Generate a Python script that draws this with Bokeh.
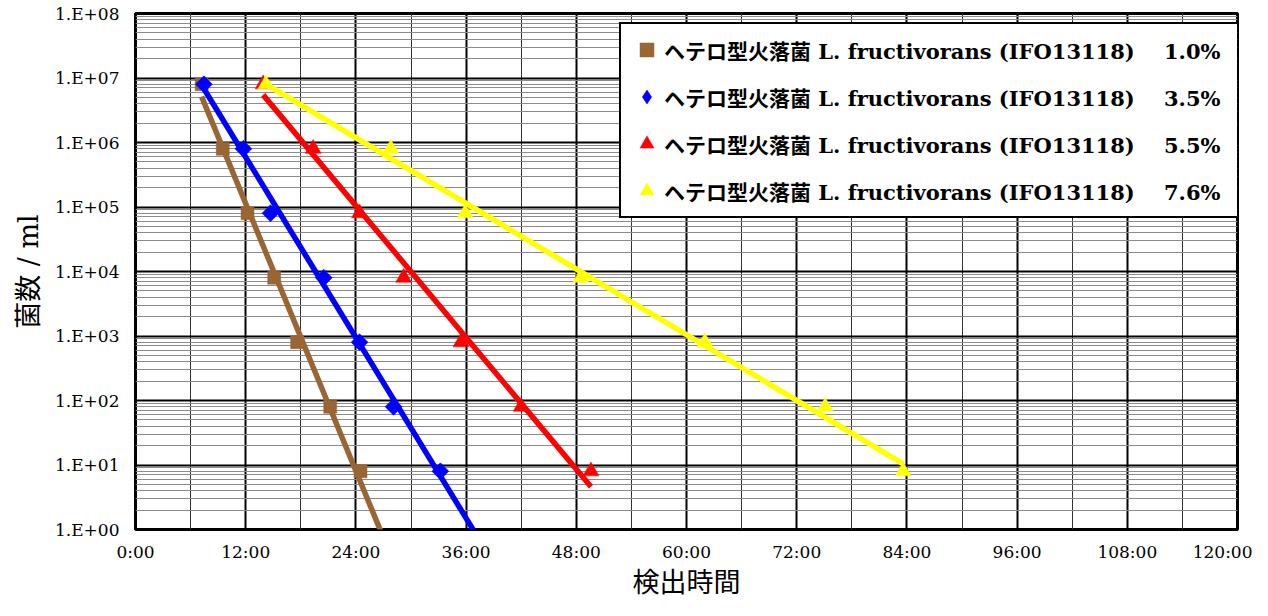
import numpy as np
from bokeh.plotting import figure
from bokeh.models import Range1d, FixedTicker, Legend, LegendItem
from bokeh.embed import file_html
from bokeh.resources import INLINE

# ---------------- data ----------------
counts = [8e6, 8e5, 8e4, 8e3, 8e2, 8e1, 8e0]          # 菌数 / ml (dilution series)
hours_10 = [7.2, 9.5, 12.2, 15.1, 17.6, 21.2, 24.5]   # 1.0%
hours_35 = [7.45, 11.75, 14.7, 20.5, 24.4, 28.1, 33.2]  # 3.5%
hours_55 = [13.9, 19.35, 24.4, 29.2, 35.45, 42.0, 49.6]  # 5.5%
hours_76 = [14.2, 27.8, 35.9, 48.5, 62.0, 75.1, 83.6]   # 7.6%
series_names = ["1.0%", "3.5%", "5.5%", "7.6%"]
trend_forward = [2.5, 4.0, 0.0, 0.0]   # forward forecast of trendline (hours)
label_prefix = "ヘテロ型火落菌 L. fructivorans (IFO13118)"

x_ticks = [0, 12, 24, 36, 48, 60, 72, 84, 96, 108, 120]
x_tick_labels = ["0:00", "12:00", "24:00", "36:00", "48:00", "60:00",
                 "72:00", "84:00", "96:00", "108:00", "120:00"]
x_minor = [6, 18, 30, 42, 54, 66, 78, 90, 102, 114]
y_ticks = [1, 10, 100, 1000, 10000, 100000, 1000000, 10000000, 100000000]
y_tick_labels = ["1.E+00", "1.E+01", "1.E+02", "1.E+03", "1.E+04",
                 "1.E+05", "1.E+06", "1.E+07", "1.E+08"]
y_minor = [k * 10 ** n for n in range(8) for k in range(2, 10)]

# ---------------- styles ----------------
colors = ["#996633", "#0000FF", "#FF0000", "#FFFF00"]
markers = ["square", "square", "triangle", "triangle"]
legend_markers = ["square", "diamond", "triangle", "triangle"]
angles = [0.0, np.pi / 4, 0.0, 0.0]
sizes = [13, 12, 16, 16]

p = figure(width=1252, height=600, x_range=Range1d(0, 120), y_range=Range1d(1, 1e8),
           y_axis_type="log", output_backend="svg", toolbar_location=None,
           min_border_left=135, min_border_right=15, min_border_top=13, min_border_bottom=70)
p.background_fill_color = "white"
p.border_fill_color = "white"
p.outline_line_color = "black"
p.outline_line_width = 3

p.xaxis.ticker = FixedTicker(ticks=x_ticks, minor_ticks=x_minor)
p.yaxis.ticker = FixedTicker(ticks=y_ticks, minor_ticks=y_minor)
p.xaxis.major_label_overrides = {t: l for t, l in zip(x_ticks, x_tick_labels)}
p.yaxis.major_label_overrides = {t: l for t, l in zip(y_ticks, y_tick_labels)}

for ax in (p.xaxis[0], p.yaxis[0]):
    ax.axis_line_color = None
    ax.major_tick_line_color = None
    ax.minor_tick_line_color = None
    ax.major_tick_out = 0
    ax.major_tick_in = 0
    ax.minor_tick_out = 0
    ax.minor_tick_in = 0
    ax.major_label_text_font = "DejaVu Serif"
    ax.major_label_text_font_size = "17px"
    ax.major_label_text_color = "black"
    ax.axis_label_text_font = "DejaVu Serif, Noto Sans CJK JP"
    ax.axis_label_text_font_style = "normal"
    ax.axis_label_text_font_size = "27px"
    ax.axis_label_text_color = "black"

p.xaxis.axis_label = "検出時間"
p.yaxis.axis_label = "菌数 / ml"
p.xaxis.major_label_standoff = 12
p.yaxis.major_label_standoff = 16
p.xaxis.axis_label_standoff = 2
p.yaxis.axis_label_standoff = 8

p.xgrid.grid_line_color = "black"
p.xgrid.grid_line_width = 2
p.xgrid.minor_grid_line_color = "#333333"
p.xgrid.minor_grid_line_width = 1
p.ygrid.grid_line_color = "black"
p.ygrid.grid_line_width = 2
p.ygrid.minor_grid_line_color = "#8c8c8c"
p.ygrid.minor_grid_line_width = 1

all_hours = [hours_10, hours_35, hours_55, hours_76]
items = []
for i, hrs in enumerate(all_hours):
    r = p.scatter(hrs, counts, marker=markers[i], size=sizes[i], angle=angles[i],
                  fill_color=colors[i], line_color=colors[i], line_width=0.5)
    leg_r = r
    if legend_markers[i] != markers[i]:
        # legend-only glyph (legend swatches are drawn unrotated); no visible point
        leg_r = p.scatter([np.nan], [np.nan], marker=legend_markers[i], fill_color=colors[i],
                          line_color=colors[i], line_width=0.5)
    items.append(LegendItem(label=label_prefix + "\u00a0" * 4 + series_names[i], renderers=[leg_r]))

for i, hrs in enumerate(all_hours):
    xs = np.array(hrs, dtype=float)
    slope, icpt = np.polyfit(xs, np.log10(counts), 1)
    fx = np.array([xs[0], xs[-1] + trend_forward[i]])
    fy = 10 ** (slope * fx + icpt)
    p.line(fx, fy, line_width=5.5, line_color=colors[i])

legend = Legend(items=items, location=(484, 311), padding=8, spacing=12,
                glyph_width=35, glyph_height=35, label_standoff=-4, label_height=20,
                label_width=576,
                label_text_font="DejaVu Serif, Noto Sans CJK JP", label_text_font_style="bold",
                label_text_font_size="21px", label_text_color="black",
                border_line_color="black", border_line_width=2, border_line_alpha=1,
                background_fill_color="white", background_fill_alpha=1, margin=0)
p.add_layout(legend)

open("out.html", "w").write(file_html(p, INLINE))
